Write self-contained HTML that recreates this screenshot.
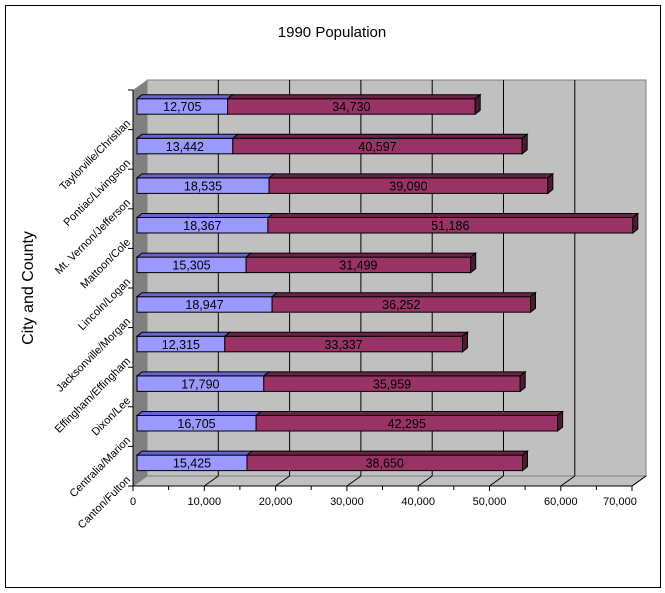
<!DOCTYPE html>
<html><head><meta charset="utf-8"><style>
body{margin:0;background:#fff}
svg{display:block;font-family:"Liberation Sans",Arial,sans-serif}
</style></head><body>
<svg width="665" height="593" viewBox="0 0 665 593">
<rect x="5.5" y="5.5" width="655" height="582" fill="#fff" stroke="#000"/>
<text x="332" y="37" font-size="15" text-anchor="middle" fill="#000">1990 Population</text>
<text transform="translate(33,288) rotate(-90)" font-size="16" text-anchor="middle">City and County</text>
<!-- walls -->
<rect x="147" y="80" width="499" height="396" fill="#c0c0c0" stroke="#808080"/>
<polygon points="133,90 147,80 147,476 133,486" fill="#808080"/>
<polygon points="133,486 147,476 646,476 632,486" fill="#c0c0c0" stroke="#808080"/>
<g stroke="#000" stroke-width="1">
<line x1="218.3" y1="80" x2="218.3" y2="476"/><line x1="289.6" y1="80" x2="289.6" y2="476"/>
<line x1="360.9" y1="80" x2="360.9" y2="476"/><line x1="432.2" y1="80" x2="432.2" y2="476"/>
<line x1="503.5" y1="80" x2="503.5" y2="476"/><line x1="574.8" y1="80" x2="574.8" y2="476"/>
<line x1="204.3" y1="486" x2="218.3" y2="476"/><line x1="275.6" y1="486" x2="289.6" y2="476"/>
<line x1="346.9" y1="486" x2="360.9" y2="476"/><line x1="418.2" y1="486" x2="432.2" y2="476"/>
<line x1="489.5" y1="486" x2="503.5" y2="476"/><line x1="560.8" y1="486" x2="574.8" y2="476"/>
<line x1="632" y1="486" x2="646" y2="476"/>
<line x1="133" y1="90" x2="133" y2="486"/>
<line x1="133" y1="486" x2="632" y2="486"/>
<line x1="128" y1="90" x2="133" y2="90"/><line x1="128" y1="129.6" x2="133" y2="129.6"/>
<line x1="128" y1="169.2" x2="133" y2="169.2"/><line x1="128" y1="208.8" x2="133" y2="208.8"/>
<line x1="128" y1="248.4" x2="133" y2="248.4"/><line x1="128" y1="288" x2="133" y2="288"/>
<line x1="128" y1="327.6" x2="133" y2="327.6"/><line x1="128" y1="367.2" x2="133" y2="367.2"/>
<line x1="128" y1="406.8" x2="133" y2="406.8"/><line x1="128" y1="446.4" x2="133" y2="446.4"/>
<line x1="128" y1="486" x2="133" y2="486"/>
<line x1="133" y1="486" x2="133" y2="491"/><line x1="168.6" y1="486" x2="168.6" y2="490"/>
<line x1="204.3" y1="486" x2="204.3" y2="491"/><line x1="239.9" y1="486" x2="239.9" y2="490"/>
<line x1="275.6" y1="486" x2="275.6" y2="491"/><line x1="311.2" y1="486" x2="311.2" y2="490"/>
<line x1="346.9" y1="486" x2="346.9" y2="491"/><line x1="382.5" y1="486" x2="382.5" y2="490"/>
<line x1="418.2" y1="486" x2="418.2" y2="491"/><line x1="453.8" y1="486" x2="453.8" y2="490"/>
<line x1="489.5" y1="486" x2="489.5" y2="491"/><line x1="525.1" y1="486" x2="525.1" y2="490"/>
<line x1="560.8" y1="486" x2="560.8" y2="491"/><line x1="596.4" y1="486" x2="596.4" y2="490"/>
<line x1="632" y1="486" x2="632" y2="491"/>
</g>
<g font-size="11" text-anchor="middle">
<text x="133" y="505">0</text><text x="204.3" y="505">10,000</text><text x="275.6" y="505">20,000</text>
<text x="346.9" y="505">30,000</text><text x="418.2" y="505">40,000</text><text x="489.5" y="505">50,000</text>
<text x="560.8" y="505">60,000</text><text x="620" y="505">70,000</text>
</g>
<g font-size="11" text-anchor="end">
<text transform="translate(131,124) rotate(-45)">Taylorville/Christian</text>
<text transform="translate(131,163.6) rotate(-45)">Pontiac/Livingston</text>
<text transform="translate(131,203.2) rotate(-45)">Mt. Vernon/Jefferson</text>
<text transform="translate(131,242.8) rotate(-45)">Mattoon/Cole</text>
<text transform="translate(131,282.4) rotate(-45)">Lincoln/Logan</text>
<text transform="translate(131,322) rotate(-45)">Jacksonville/Morgan</text>
<text transform="translate(131,361.6) rotate(-45)">Effingham/Effingham</text>
<text transform="translate(131,401.2) rotate(-45)">Dixon/Lee</text>
<text transform="translate(131,440.8) rotate(-45)">Centralia/Marion</text>
<text transform="translate(131,480.4) rotate(-45)">Canton/Fulton</text>
</g>
<g stroke="#000" stroke-width="1" font-size="12.5" text-anchor="middle">
<g transform="translate(0,98.7)"><rect x="137" y="0" width="90.6" height="15.5" fill="#9999ff"/><rect x="227.6" y="0" width="247.6" height="15.5" fill="#993366"/><polygon points="137,0 142,-4 232.6,-4 227.6,0" fill="#6666cc"/><polygon points="227.6,0 232.6,-4 480.2,-4 475.2,0" fill="#6b2447"/><polygon points="475.2,0 480.2,-4 480.2,11.5 475.2,15.5" fill="#4d1a33"/><text x="182.3" y="12.5" stroke="none">12,705</text><text x="351.4" y="12.5" stroke="none">34,730</text></g>
<g transform="translate(0,138.3)"><rect x="137" y="0" width="95.8" height="15.5" fill="#9999ff"/><rect x="232.8" y="0" width="289.4" height="15.5" fill="#993366"/><polygon points="137,0 142,-4 237.8,-4 232.8,0" fill="#6666cc"/><polygon points="232.8,0 237.8,-4 527.2,-4 522.2,0" fill="#6b2447"/><polygon points="522.2,0 527.2,-4 527.2,11.5 522.2,15.5" fill="#4d1a33"/><text x="184.9" y="12.5" stroke="none">13,442</text><text x="377.5" y="12.5" stroke="none">40,597</text></g>
<g transform="translate(0,177.9)"><rect x="137" y="0" width="132.1" height="15.5" fill="#9999ff"/><rect x="269.1" y="0" width="278.7" height="15.5" fill="#993366"/><polygon points="137,0 142,-4 274.1,-4 269.1,0" fill="#6666cc"/><polygon points="269.1,0 274.1,-4 552.8,-4 547.8,0" fill="#6b2447"/><polygon points="547.8,0 552.8,-4 552.8,11.5 547.8,15.5" fill="#4d1a33"/><text x="203" y="12.5" stroke="none">18,535</text><text x="408.4" y="12.5" stroke="none">39,090</text></g>
<g transform="translate(0,217.5)"><rect x="137" y="0" width="130.9" height="15.5" fill="#9999ff"/><rect x="267.9" y="0" width="364.9" height="15.5" fill="#993366"/><polygon points="137,0 142,-4 272.9,-4 267.9,0" fill="#6666cc"/><polygon points="267.9,0 272.9,-4 637.8,-4 632.8,0" fill="#6b2447"/><polygon points="632.8,0 637.8,-4 637.8,11.5 632.8,15.5" fill="#4d1a33"/><text x="202.4" y="12.5" stroke="none">18,367</text><text x="450.3" y="12.5" stroke="none">51,186</text></g>
<g transform="translate(0,257.1)"><rect x="137" y="0" width="109.1" height="15.5" fill="#9999ff"/><rect x="246.1" y="0" width="224.6" height="15.5" fill="#993366"/><polygon points="137,0 142,-4 251.1,-4 246.1,0" fill="#6666cc"/><polygon points="246.1,0 251.1,-4 475.7,-4 470.7,0" fill="#6b2447"/><polygon points="470.7,0 475.7,-4 475.7,11.5 470.7,15.5" fill="#4d1a33"/><text x="191.5" y="12.5" stroke="none">15,305</text><text x="358.4" y="12.5" stroke="none">31,499</text></g>
<g transform="translate(0,296.7)"><rect x="137" y="0" width="135.1" height="15.5" fill="#9999ff"/><rect x="272.1" y="0" width="258.4" height="15.5" fill="#993366"/><polygon points="137,0 142,-4 277.1,-4 272.1,0" fill="#6666cc"/><polygon points="272.1,0 277.1,-4 535.5,-4 530.5,0" fill="#6b2447"/><polygon points="530.5,0 535.5,-4 535.5,11.5 530.5,15.5" fill="#4d1a33"/><text x="204.5" y="12.5" stroke="none">18,947</text><text x="401.3" y="12.5" stroke="none">36,252</text></g>
<g transform="translate(0,336.3)"><rect x="137" y="0" width="87.8" height="15.5" fill="#9999ff"/><rect x="224.8" y="0" width="237.7" height="15.5" fill="#993366"/><polygon points="137,0 142,-4 229.8,-4 224.8,0" fill="#6666cc"/><polygon points="224.8,0 229.8,-4 467.5,-4 462.5,0" fill="#6b2447"/><polygon points="462.5,0 467.5,-4 467.5,11.5 462.5,15.5" fill="#4d1a33"/><text x="180.9" y="12.5" stroke="none">12,315</text><text x="343.6" y="12.5" stroke="none">33,337</text></g>
<g transform="translate(0,375.9)"><rect x="137" y="0" width="126.8" height="15.5" fill="#9999ff"/><rect x="263.8" y="0" width="256.4" height="15.5" fill="#993366"/><polygon points="137,0 142,-4 268.8,-4 263.8,0" fill="#6666cc"/><polygon points="263.8,0 268.8,-4 525.2,-4 520.2,0" fill="#6b2447"/><polygon points="520.2,0 525.2,-4 525.2,11.5 520.2,15.5" fill="#4d1a33"/><text x="200.4" y="12.5" stroke="none">17,790</text><text x="392" y="12.5" stroke="none">35,959</text></g>
<g transform="translate(0,415.5)"><rect x="137" y="0" width="119.1" height="15.5" fill="#9999ff"/><rect x="256.1" y="0" width="301.5" height="15.5" fill="#993366"/><polygon points="137,0 142,-4 261.1,-4 256.1,0" fill="#6666cc"/><polygon points="256.1,0 261.1,-4 562.6,-4 557.6,0" fill="#6b2447"/><polygon points="557.6,0 562.6,-4 562.6,11.5 557.6,15.5" fill="#4d1a33"/><text x="196.5" y="12.5" stroke="none">16,705</text><text x="406.8" y="12.5" stroke="none">42,295</text></g>
<g transform="translate(0,455.1)"><rect x="137" y="0" width="110" height="15.5" fill="#9999ff"/><rect x="247" y="0" width="275.5" height="15.5" fill="#993366"/><polygon points="137,0 142,-4 252,-4 247,0" fill="#6666cc"/><polygon points="247,0 252,-4 527.5,-4 522.5,0" fill="#6b2447"/><polygon points="522.5,0 527.5,-4 527.5,11.5 522.5,15.5" fill="#4d1a33"/><text x="192" y="12.5" stroke="none">15,425</text><text x="384.7" y="12.5" stroke="none">38,650</text></g>
</g>
</svg>
</body></html>
